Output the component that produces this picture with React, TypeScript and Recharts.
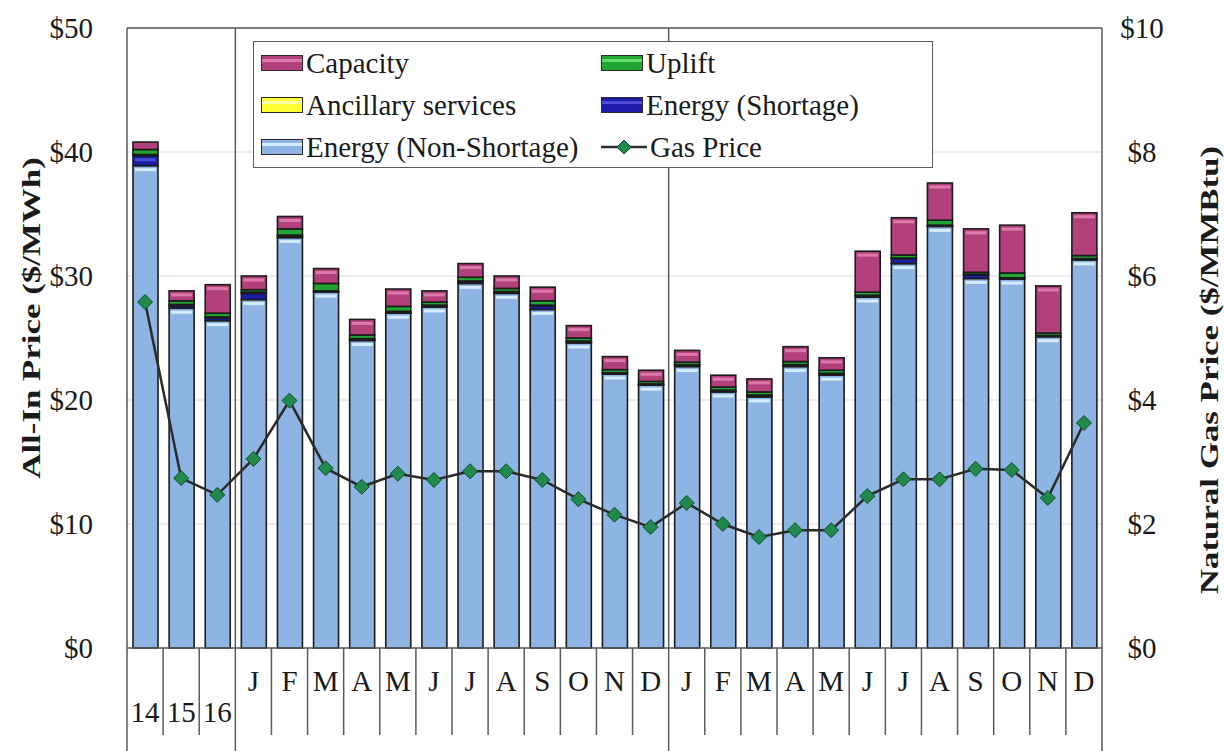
import React from 'react';
import {
  ComposedChart, Bar, Line, XAxis, YAxis, CartesianGrid, ReferenceLine, Legend,
} from 'recharts';

// ---------- data ----------
const categories = ['14', '15', '16', 'J', 'F', 'M', 'A', 'M', 'J', 'J', 'A', 'S', 'O', 'N', 'D',
  'J', 'F', 'M', 'A', 'M', 'J', 'J', 'A', 'S', 'O', 'N', 'D'];
const categoryKeys = ['14', '15', '16', 'J1', 'F1', 'M1', 'A1', 'My1', 'Jn1', 'Jl1', 'Au1', 'S1', 'O1', 'N1', 'D1',
  'J2', 'F2', 'M2', 'A2', 'My2', 'Jn2', 'Jl2', 'Au2', 'S2', 'O2', 'N2', 'D2'];
const energyNonShortage = [38.9, 27.4, 26.4, 28.1, 33.1, 28.7, 24.8, 27.0, 27.5, 29.4, 28.6, 27.3, 24.6, 22.1, 21.2,
  22.7, 20.65, 20.25, 22.7, 22.0, 28.3, 31.0, 34.0, 29.8, 29.75, 25.1, 31.3];
const energyShortage = [0.8, 0.2, 0.2, 0.5, 0.1, 0, 0.05, 0.05, 0.1, 0.15, 0.1, 0.3, 0.1, 0.05, 0.05,
  0.1, 0.1, 0.1, 0.1, 0.1, 0.1, 0.4, 0.05, 0.3, 0.05, 0.05, 0.05];
const ancillary = [0.1, 0.1, 0.1, 0.1, 0.1, 0.1, 0.1, 0.1, 0.05, 0.05, 0.05, 0.05, 0.05, 0.05, 0.05,
  0.05, 0.05, 0.05, 0.05, 0.05, 0.05, 0.05, 0.05, 0.05, 0.05, 0.05, 0.05];
const uplift = [0.4, 0.3, 0.3, 0.2, 0.5, 0.6, 0.3, 0.4, 0.25, 0.3, 0.25, 0.35, 0.25, 0.25, 0.2,
  0.2, 0.25, 0.25, 0.25, 0.25, 0.25, 0.25, 0.4, 0.15, 0.4, 0.2, 0.25];
const capacity = [0.6, 0.8, 2.3, 1.1, 1.0, 1.2, 1.25, 1.4, 0.9, 1.1, 1.0, 1.1, 1.0, 1.05, 0.9,
  0.95, 0.95, 1.05, 1.2, 1.0, 3.3, 3.0, 3.0, 3.5, 3.85, 3.8, 3.45];
const gasPrice = [5.58, 2.74, 2.47, 3.05, 3.99, 2.90, 2.60, 2.81, 2.71, 2.85, 2.85, 2.71, 2.40, 2.15, 1.95,
  2.34, 2.00, 1.79, 1.90, 1.90, 2.45, 2.72, 2.72, 2.89, 2.87, 2.42, 3.63];
const leftTicks = [0, 10, 20, 30, 40, 50];
const rightTicks = [0, 2, 4, 6, 8, 10];
const groupEndKeys = ['16', 'D1'];

const data = categoryKeys.map((key, i) => ({
  key,
  label: categories[i],
  ns: energyNonShortage[i],
  sh: energyShortage[i],
  anc: ancillary[i],
  up: uplift[i],
  cap: capacity[i],
  gas: gasPrice[i],
}));

// ---------- layout ----------
const W = 1224;
const H = 751;
const PLOT_LEFT = 127;
const PLOT_RIGHT = 1102;
const PLOT_TOP = 28;
const PLOT_BOTTOM = 648;
const PLOT_W = PLOT_RIGHT - PLOT_LEFT;
const FONT = '"Liberation Serif", "Times New Roman", serif';
const FRAME = '#5a5a5a';
const TEXT = '#1a1a1a';

const COLORS = {
  ns: { fill: '#8db4e3', hi: '#d4ecfb' },
  sh: { fill: '#1c1ca8', hi: '#4a4ad8' },
  anc: { fill: '#ffff33', hi: '#ffffaa' },
  up: { fill: '#22a633', hi: '#66dd66' },
  cap: { fill: '#b2407a', hi: '#dc7aac' },
};

const makeShape = (fill: string, hi: string) => (props: any) => {
  const { x, y, width, height } = props;
  if (height == null || width == null || height <= 0) return <g />;
  return (
    <g>
      <rect x={x} y={y} width={width} height={height} fill={fill} stroke="#1c1c1c" strokeWidth={1.6} />
      {height > 8 && (
        <rect x={x + 2} y={y + 2.5} width={width - 4} height={3} fill={hi} />
      )}
    </g>
  );
};

const Diamond = (props: any) => {
  const { cx, cy, index } = props;
  if (cx == null || cy == null) return <g key={index} />;
  const r = 7.5;
  return (
    <polygon
      key={index}
      points={`${cx},${cy - r} ${cx + r},${cy} ${cx},${cy + r} ${cx - r},${cy}`}
      fill="#1f8a4c"
      stroke="#0f4d2a"
      strokeWidth={1}
    />
  );
};

const XTick = (props: any) => {
  const { x, index } = props;
  const step = PLOT_W / categories.length;
  const isYear = index < 3;
  const groupEnd = index === 2 || index === 14 || index === categories.length - 1;
  return (
    <g>
      <text
        x={x}
        y={PLOT_BOTTOM + (isYear ? 74 : 43)}
        textAnchor="middle"
        fontSize={29}
        fill={TEXT}
        fontFamily={FONT}
      >
        {categories[index]}
      </text>
      <line
        x1={x + step / 2}
        x2={x + step / 2}
        y1={PLOT_BOTTOM}
        y2={groupEnd ? H : 735}
        stroke={FRAME}
        strokeWidth={1.5}
      />
      {index === 0 && (
        <line x1={x - step / 2} x2={x - step / 2} y1={PLOT_BOTTOM} y2={H} stroke={FRAME} strokeWidth={1.5} />
      )}
    </g>
  );
};

const LeftTick = (props: any) => {
  const { x, y, payload } = props;
  return (
    <text x={x} y={y} dy="0.35em" textAnchor="end" fontSize={29} fill={TEXT} fontFamily={FONT}>
      {`$${payload.value}`}
    </text>
  );
};

const RightTick = (props: any) => {
  const { x, y, payload } = props;
  return (
    <text x={x + 24} y={y} dy="0.35em" textAnchor="middle" fontSize={29} fill={TEXT} fontFamily={FONT}>
      {`$${payload.value}`}
    </text>
  );
};

const AxisTitle = (props: any) => {
  const { cx, cy, text } = props;
  return (
    <g transform={`translate(${cx} ${cy}) rotate(-90) scale(1.09 0.82)`}>
      <text
        x={0}
        y={0}
        textAnchor="middle"
        dominantBaseline="central"
        fontWeight="bold"
        fontSize={32}
        fill={TEXT}
        fontFamily={FONT}
      >
        {text}
      </text>
    </g>
  );
};

const legendItems = [
  { label: 'Capacity', c: COLORS.cap },
  { label: 'Uplift', c: COLORS.up },
  { label: 'Ancillary services', c: COLORS.anc },
  { label: 'Energy (Shortage)', c: COLORS.sh },
  { label: 'Energy (Non-Shortage)', c: COLORS.ns },
  { label: 'Gas Price', c: null },
];

const LegendBox = () => (
  <div
    style={{
      boxSizing: 'border-box',
      width: 680,
      height: 127,
      border: `1.5px solid ${FRAME}`,
      background: '#fff',
      paddingLeft: 7,
      paddingTop: 0,
      display: 'grid',
      gridTemplateColumns: '340px 1fr',
      gridAutoRows: '42px',
      fontFamily: FONT,
      fontSize: 29,
      color: TEXT,
    }}
  >
    {legendItems.map((it) => (
      <div key={it.label} style={{ display: 'flex', alignItems: 'center', height: 42, whiteSpace: 'nowrap' }}>
        {it.c ? (
          <div
            style={{
              boxSizing: 'border-box',
              width: 42,
              height: 16,
              border: '1.5px solid #2a2a2a',
              background: it.c.fill,
              boxShadow: `inset 0 3px 0 0 ${it.c.fill}, inset 0 6px 0 0 ${it.c.hi}`,
            }}
          />
        ) : (
          <svg width={46} height={18} style={{ display: 'block' }}>
            <line x1={0} x2={46} y1={9} y2={9} stroke="#2b2b2b" strokeWidth={2.5} />
            <polygon points="23,2 30,9 23,16 16,9" fill="#1f8a4c" stroke="#0f4d2a" strokeWidth={1} />
          </svg>
        )}
        <span style={{ marginLeft: 3, lineHeight: 1 }}>{it.label}</span>
      </div>
    ))}
  </div>
);

export default function App() {
  return (
    <div style={{ position: 'absolute', left: 0, top: 0, width: W, height: H, background: '#fff', fontFamily: FONT }}>
      <ComposedChart
        width={W}
        height={H}
        data={data}
        margin={{ top: PLOT_TOP, right: 0, bottom: 0, left: 0 }}
        barSize={25}
      >
        <CartesianGrid yAxisId="left" horizontal vertical={false} stroke="#dcdcdc" strokeWidth={1} />
        <XAxis
          dataKey="key"
          type="category"
          interval={0}
          height={H - PLOT_BOTTOM}
          tickLine={false}
          tickSize={0}
          axisLine={{ stroke: FRAME, strokeWidth: 1.5 }}
          tick={(p: any) => <XTick {...p} />}
        />
        <YAxis
          yAxisId="left"
          orientation="left"
          width={PLOT_LEFT}
          domain={[0, 50]}
          ticks={leftTicks}
          tickLine={false}
          tickSize={0}
          tickMargin={34}
          axisLine={{ stroke: FRAME, strokeWidth: 1.5 }}
          tick={(p: any) => <LeftTick {...p} />}
          label={<AxisTitle cx={31} cy={318} text="All-In Price ($/MWh)" />}
        />
        <YAxis
          yAxisId="right"
          orientation="right"
          width={W - PLOT_RIGHT}
          domain={[0, 10]}
          ticks={rightTicks}
          tickLine={false}
          tickSize={0}
          tickMargin={16}
          axisLine={{ stroke: FRAME, strokeWidth: 1.5 }}
          tick={(p: any) => <RightTick {...p} />}
          label={<AxisTitle cx={1209} cy={370} text="Natural Gas Price ($/MMBtu)" />}
        />
        <ReferenceLine yAxisId="left" y={50} stroke={FRAME} strokeWidth={1.5} />
        {groupEndKeys.map((k) => (
          <ReferenceLine key={k} yAxisId="left" x={k} position="end" stroke={FRAME} strokeWidth={1.5} />
        ))}
        <Bar yAxisId="left" dataKey="ns" stackId="a" name="Energy (Non-Shortage)" fill={COLORS.ns.fill}
          shape={makeShape(COLORS.ns.fill, COLORS.ns.hi)} isAnimationActive={false} />
        <Bar yAxisId="left" dataKey="sh" stackId="a" name="Energy (Shortage)" fill={COLORS.sh.fill}
          shape={makeShape(COLORS.sh.fill, COLORS.sh.hi)} isAnimationActive={false} />
        <Bar yAxisId="left" dataKey="anc" stackId="a" name="Ancillary services" fill={COLORS.anc.fill}
          shape={makeShape(COLORS.anc.fill, COLORS.anc.hi)} isAnimationActive={false} />
        <Bar yAxisId="left" dataKey="up" stackId="a" name="Uplift" fill={COLORS.up.fill}
          shape={makeShape(COLORS.up.fill, COLORS.up.hi)} isAnimationActive={false} />
        <Bar yAxisId="left" dataKey="cap" stackId="a" name="Capacity" fill={COLORS.cap.fill}
          shape={makeShape(COLORS.cap.fill, COLORS.cap.hi)} isAnimationActive={false} />
        <Line yAxisId="right" dataKey="gas" name="Gas Price" type="linear" stroke="#2b2b2b" strokeWidth={2.5}
          dot={(p: any) => <Diamond key={p.index} {...p} />} activeDot={false} isAnimationActive={false} />
        <Legend
          layout="horizontal"
          verticalAlign="middle"
          align="center"
          wrapperStyle={{ left: 253, top: 41, width: 680, height: 127 }}
          content={() => <LegendBox />}
        />
      </ComposedChart>
    </div>
  );
}
